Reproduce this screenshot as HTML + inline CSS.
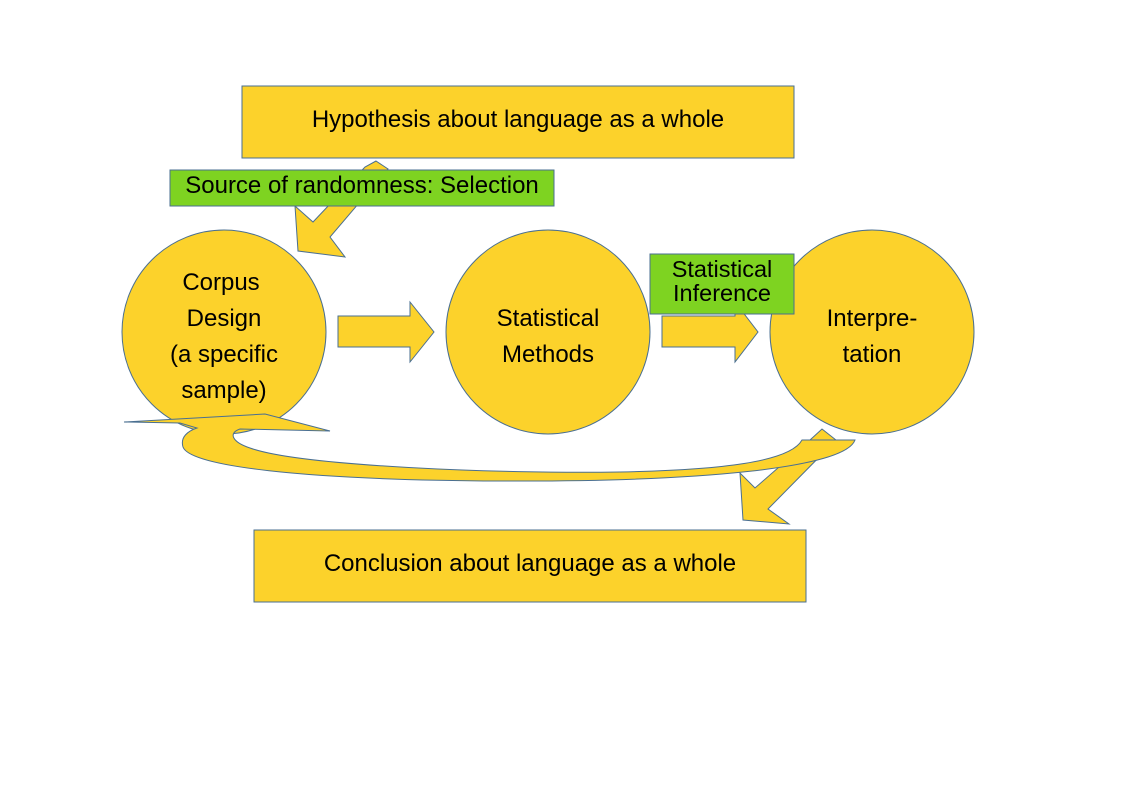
<!DOCTYPE html>
<html><head><meta charset="utf-8"><style>
html,body{margin:0;padding:0;background:#fff;}
svg{display:block;font-family:"Liberation Sans",sans-serif;}
text{font-size:24px;fill:#000;text-anchor:middle;}
</style></head><body>
<svg width="1123" height="794" viewBox="0 0 1123 794">
<g fill="#FCD22B" stroke="#4A6F91" stroke-width="1">
<rect x="242" y="86" width="552" height="72"/>
<polygon points="376,161 388,169 330,237 345,257 298,251 295,206 313,222 365,167"/>
<circle cx="224" cy="332" r="102"/>
<circle cx="548" cy="332" r="102"/>
<circle cx="872" cy="332" r="102"/>
<polygon points="338,316 410,316 410,302 434,332 410,362 410,347 338,347"/>
<polygon points="662,316 735,316 735,302 758,332 735,362 735,347 662,347"/>
<polygon points="822,429 836,440 768,509 789,524 743,520 740,473 755,488 810,440"/>
<path d="M855,440 C845,468 700,482 500,481 C300,480 190,466 183,447 C180,437 188,431 197,428 L180,423 L124,422 L265,414 L330,431 L240,429 C228,433 232,442 250,448 C300,466 500,474 620,472 C720,470 790,462 802,440 Z"/>
<rect x="254" y="530" width="552" height="72"/>
</g>
<g fill="#7ED321" stroke="#4A6F91" stroke-width="1">
<rect x="170" y="170" width="384" height="36"/>
<rect x="650" y="254" width="144" height="60"/>
</g>
<text x="518" y="127">Hypothesis about language as a whole</text>
<text x="362" y="193">Source of randomness: Selection</text>
<text x="221" y="290">Corpus</text>
<text x="224" y="326">Design</text>
<text x="224" y="362">(a specific</text>
<text x="224" y="398">sample)</text>
<text x="548" y="326">Statistical</text>
<text x="548" y="362">Methods</text>
<text x="722" y="277" style="font-size:23.5px">Statistical</text>
<text x="722" y="301" style="font-size:23.5px">Inference</text>
<text x="872" y="326">Interpre-</text>
<text x="872" y="362">tation</text>
<text x="530" y="571">Conclusion about language as a whole</text>
</svg>
</body></html>
